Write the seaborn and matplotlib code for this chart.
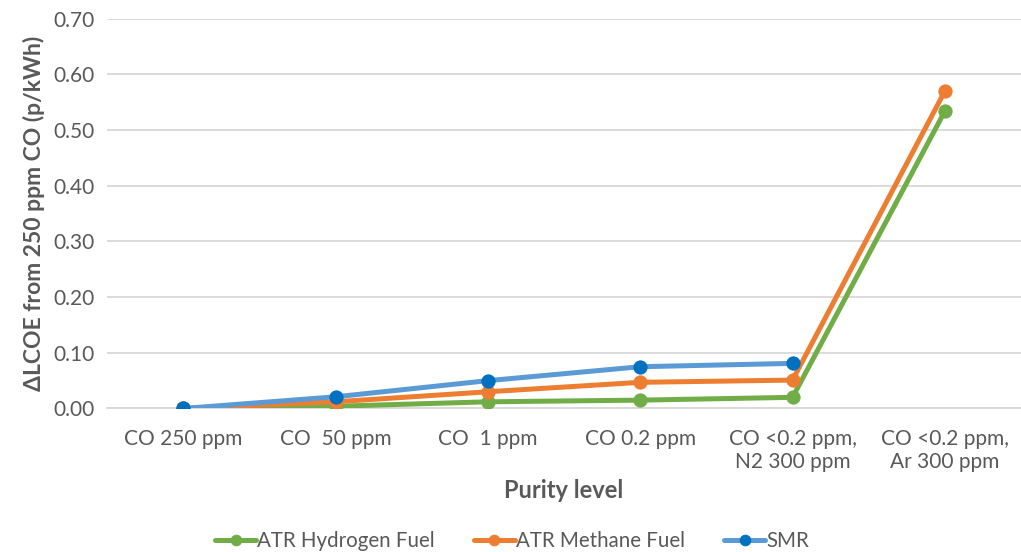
"""Purity level vs ΔLCOE line chart (Excel-style recreation)."""

import matplotlib

matplotlib.use("Agg")
import matplotlib.pyplot as plt
import numpy as np
import pandas as pd
import seaborn as sns

categories = [
    "CO 250 ppm",
    "CO  50 ppm",
    "CO  1 ppm",
    "CO 0.2 ppm",
    "CO <0.2 ppm,\nN2 300 ppm",
    "CO <0.2 ppm,\nAr 300 ppm",
]
atr_hydrogen = [0.0, 0.004, 0.012, 0.015, 0.020, 0.534]
atr_methane = [0.0, 0.012, 0.030, 0.047, 0.051, 0.570]
smr = [0.0, 0.021, 0.050, 0.075, 0.081, np.nan]
series_names = ["ATR Hydrogen Fuel", "ATR Methane Fuel", "SMR"]
y_ticks = [0.0, 0.1, 0.2, 0.3, 0.4, 0.5, 0.6, 0.7]

line_colors = {"ATR Hydrogen Fuel": "#70AD47", "ATR Methane Fuel": "#ED7D31", "SMR": "#5B9BD5"}
marker_colors = {"ATR Hydrogen Fuel": "#70AD47", "ATR Methane Fuel": "#ED7D31", "SMR": "#0070C0"}
text_color = "#595959"

sns.set_theme(style="white")
plt.rcParams["font.family"] = ["Lato", "DejaVu Sans"]

rows = []
for name, vals in zip(series_names, [atr_hydrogen, atr_methane, smr]):
    for i, v in enumerate(vals):
        rows.append({"idx": i, "value": v, "series": name})
df = pd.DataFrame(rows).dropna()

fig, ax = plt.subplots(figsize=(10.21, 5.52), dpi=100)
fig.subplots_adjust(left=0.105, right=1.0, top=0.966, bottom=0.26)

for name in series_names:
    sub = df[df["series"] == name]
    sns.lineplot(
        data=sub, x="idx", y="value", ax=ax, color=line_colors[name],
        linewidth=3.6, marker="o", markersize=9.5,
        markerfacecolor=marker_colors[name], markeredgecolor=marker_colors[name],
        label=name, zorder=3,
    )

ax.set_xlim(-0.5, len(categories) - 0.5)
ax.set_ylim(0, 0.7)
ax.set_yticks(y_ticks)
ax.set_yticklabels([f"{t:.2f}" for t in y_ticks])
ax.set_xticks(range(len(categories)))
ax.set_xticklabels(categories, linespacing=1.15)
ax.grid(axis="y", color="#D9D9D9", linewidth=1.3)
ax.set_axisbelow(True)
for side in ["top", "right", "left"]:
    ax.spines[side].set_visible(False)
ax.spines["bottom"].set_color("#D9D9D9")
ax.spines["bottom"].set_linewidth(1.3)
ax.tick_params(axis="x", labelsize=15, colors=text_color, length=0, pad=15)
ax.tick_params(axis="y", labelsize=15, colors=text_color, length=0, pad=9)

ax.set_xlabel("Purity level", fontsize=17, fontweight="bold", color=text_color, labelpad=5)
ax.set_ylabel("ΔLCOE from 250 ppm CO (p/kWh)", fontsize=16.5, fontweight="bold",
              color=text_color, labelpad=6)

ax.legend(loc="upper center", bbox_to_anchor=(0.443, -0.268), ncol=3, frameon=False,
          fontsize=14.8, handlelength=2.0, handletextpad=0.05, columnspacing=1.9,
          markerscale=0.8, labelcolor=text_color)

fig.savefig("out.png", dpi=100)
plt.close(fig)
